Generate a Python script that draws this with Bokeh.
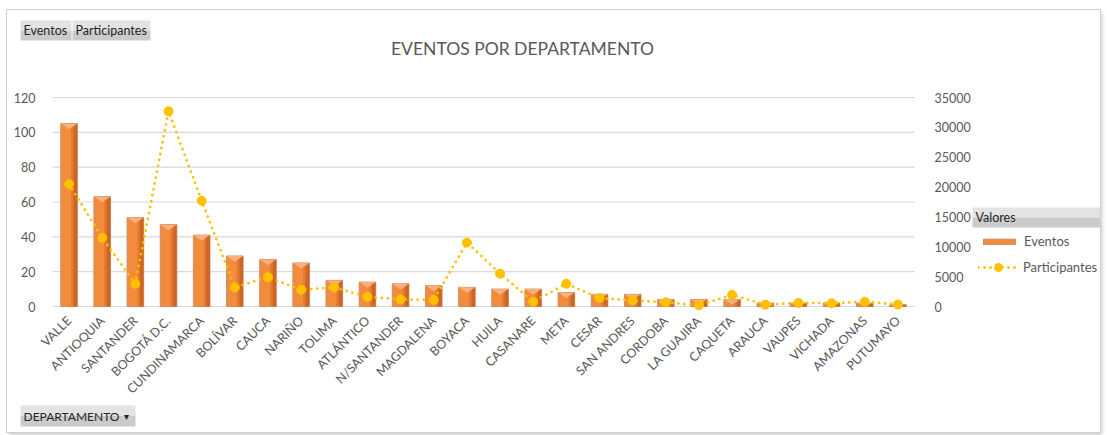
import math
from bokeh.plotting import figure
from bokeh.models import (ColumnDataSource, Range1d, LinearAxis, FixedTicker,
                          Label, BoxAnnotation, Legend, LegendItem)
from bokeh.embed import file_html
from bokeh.resources import INLINE

# ---------------- data ----------------
departamentos = ["VALLE", "ANTIOQUIA", "SANTANDER", "BOGOTÁ D.C.", "CUNDINAMARCA",
                 "BOLÍVAR", "CAUCA", "NARIÑO", "TOLIMA", "ATLÁNTICO", "N/SANTANDER",
                 "MAGDALENA", "BOYACA", "HUILA", "CASANARE", "META", "CESAR",
                 "SAN ANDRES", "CORDOBA", "LA GUAJIRA", "CAQUETA", "ARAUCA",
                 "VAUPES", "VICHADA", "AMAZONAS", "PUTUMAYO"]
eventos = [105, 63, 51, 47, 41, 29, 27, 25, 15, 14, 13, 12, 11, 10, 10, 8, 7,
           7, 4, 4, 4, 2, 2, 2, 2, 1]
participantes = [20500, 11500, 3800, 32700, 17700, 3200, 4900, 2800, 3200, 1600,
                 1200, 1100, 10700, 5500, 800, 3800, 1400, 1000, 700, 200, 1950,
                 300, 600, 550, 780, 330]
left_ticks = [0, 20, 40, 60, 80, 100, 120]
right_ticks = [0, 5000, 10000, 15000, 20000, 25000, 30000, 35000]

FONT = "Lato"
GRAY = "#595959"
DARK = "#262626"

# ---------------- layout (pixels inside the canvas) ----------------
W, H = 1093, 422                   # canvas
PL, PR, PT, PB = 45, 907, 87, 296  # plot area (gridline extent)

n = len(departamentos)
idx = list(range(n))
cw = (PR - PL) / n
x_lo, x_hi = -0.5, n - 0.5
x_start = x_lo - PL / cw
x_end = x_hi + (W - PR) / cw
ly0, ly1 = left_ticks[0], left_ticks[-1]
k1 = (ly1 - ly0) / (PB - PT)
ry0, ry1 = right_ticks[0], right_ticks[-1]
k2 = (ry1 - ry0) / (PB - PT)

src = ColumnDataSource(dict(x=idx, ev=eventos, part=participantes,
                            xr1=[i + 0.10 for i in idx],
                            xr2=[i + 0.19 for i in idx]))

p = figure(width=W, height=H,
           x_range=Range1d(x_start, x_end),
           y_range=Range1d(ly0 - (H - PB) * k1, ly1 + PT * k1),
           output_backend="svg", toolbar_location=None, title=None,
           min_border=0)
p.margin = (10, 7, 3, 7)
p.outline_line_color = None
p.background_fill_color = "white"
p.border_fill_color = "white"
p.xgrid.visible = False
p.ygrid.visible = False
p.styles = {"outline": "1px solid #D0D0D0", "box-shadow": "2px 3px 4px #C8C8C8"}

# horizontal gridlines over the plot area
p.segment(x0=x_lo, x1=x_hi, y0=left_ticks, y1=left_ticks,
          line_color="#D9D9D9", line_width=1.2)

# left axis
yax = p.yaxis[0]
yax.fixed_location = x_lo
yax.ticker = FixedTicker(ticks=left_ticks)
yax.axis_line_color = None
yax.major_tick_line_color = None
yax.minor_tick_line_color = None
yax.major_label_standoff = 11
yax.major_label_text_font = FONT
yax.major_label_text_font_size = "12.5px"
yax.major_label_text_color = GRAY

# x axis (department names)
xax = p.xaxis[0]
xax.fixed_location = ly0
xax.ticker = FixedTicker(ticks=idx)
xax.major_label_overrides = {i: name for i, name in zip(idx, departamentos)}
xax.axis_line_color = None
xax.major_tick_line_color = None
xax.minor_tick_line_color = None
xax.major_label_orientation = math.pi / 4
xax.major_label_standoff = 6
xax.major_label_text_font = FONT
xax.major_label_text_font_size = "12.5px"
xax.major_label_text_color = GRAY

# right axis (participants)
p.extra_y_ranges = {"part": Range1d(ry0 - (H - PB) * k2, ry1 + PT * k2)}
rax = LinearAxis(y_range_name="part", ticker=FixedTicker(ticks=right_ticks),
                 fixed_location=x_hi)
rax.axis_line_color = None
rax.major_tick_line_color = None
rax.minor_tick_line_color = None
rax.major_label_standoff = 14
rax.major_label_text_font = FONT
rax.major_label_text_font_size = "12.5px"
rax.major_label_text_color = GRAY
p.add_layout(rax, "right")

# ---------------- bars (bevelled look) ----------------
bar_r = p.vbar(x="x", top="ev", bottom=0, width=0.5, source=src,
               fill_color="#F28B3C", line_color="#C98E6B", line_width=1)
p.vbar(x="xr1", top="ev", bottom=0, width=0.08, source=src,
       fill_color="#E27A32", line_color=None)
p.vbar(x="xr2", top="ev", bottom=0, width=0.11, source=src,
       fill_color="#CD6622", line_color=None)
tri_xs = [[i - 0.245, i + 0.245, i] for i in idx]
tri_ys = [[v, v, v - min(3.2, v * 0.7)] for v in eventos]
p.patches(xs=tri_xs, ys=tri_ys, fill_color="#F9B07A", line_color=None)

# ---------------- participants line ----------------
line_r = p.line(x="x", y="part", source=src, y_range_name="part",
                line_color="#FFC000", line_width=2.8, line_dash="0 6",
                line_cap="round")
mark_r = p.scatter(x="x", y="part", source=src, y_range_name="part",
                   size=9, fill_color="#FFC000", line_color="#FFC000")

# ---------------- legend ----------------
common = dict(padding=0, margin=0, border_line_color=None, background_fill_alpha=0,
              label_text_font=FONT, label_text_font_size="13px",
              label_text_color=GRAY, label_standoff=5, glyph_width=40)
leg_ev = Legend(items=[LegendItem(label="Eventos", renderers=[bar_r])],
                location=(972, 182), glyph_height=7, label_height=18, **common)
leg_part = Legend(items=[LegendItem(label="Participantes", renderers=[line_r, mark_r])],
                  location=(971, 155), glyph_height=20, label_height=20, **common)
p.add_layout(leg_ev)
p.add_layout(leg_part)

# ---------------- buttons / headers (screen units, y measured upward) ----------------
def button(l, r, t, b):
    mid = (t + b) / 2
    for (tt, bb, col) in ((t, mid, "#E3E3E3"), (mid, b, "#CBCBCB")):
        p.add_layout(BoxAnnotation(left=l, right=r, top=tt, bottom=bb,
                                   left_units="screen", right_units="screen",
                                   top_units="screen", bottom_units="screen",
                                   fill_color=col, fill_alpha=1, line_color=None))

def lab(text, x, y, size="12.5px", color=DARK, align="left", font=FONT):
    p.add_layout(Label(text=text, x=x, y=y, x_units="screen", y_units="screen",
                       text_font=font, text_font_size=size, text_color=color,
                       text_align=align, text_baseline="middle"))

button(13, 64, 412, 392)
button(65, 143, 412, 392)
button(13, 128, 27, 6)
button(965, 1093, 225, 205)

lab("Eventos", 16, 402)
lab("Participantes", 68, 402)
lab("DEPARTAMENTO", 16, 16.5, size="12px")
lab("▾", 119, 16.5, size="10px", font="DejaVu Sans", align="center")
lab("Valores", 968, 215)
lab("EVENTOS POR DEPARTAMENTO", 515, 384, size="17.5px", color=GRAY, align="center")

open("out.html", "w").write(file_html(p, INLINE))
